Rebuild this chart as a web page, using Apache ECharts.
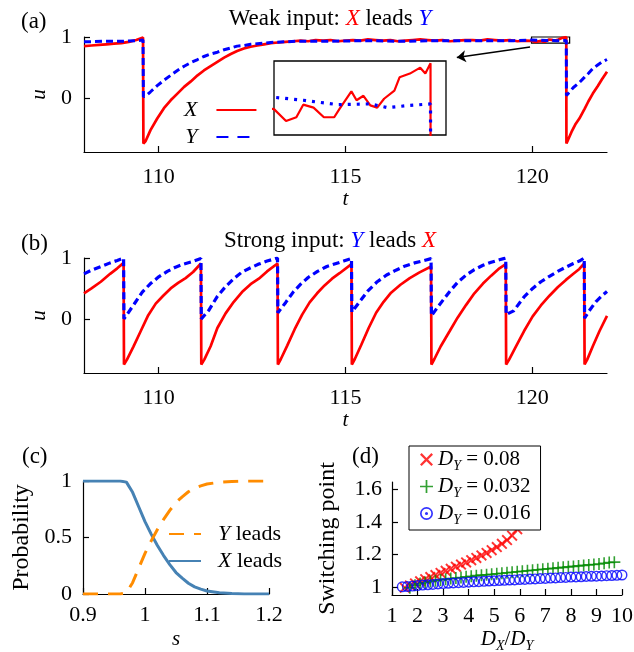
<!DOCTYPE html>
<html>
<head>
<meta charset="utf-8">
<script src="https://cdn.jsdelivr.net/npm/echarts@6/dist/echarts.min.js"></script>
<style>
  html, body { margin: 0; padding: 0; background: #fff; }
  #chart { width: 634px; height: 652px; }
</style>
</head>
<body>
<div id="chart"></div>
<script>
// (a) weak input: [t, u]
const aX = [[108,0.85],[108.2,0.86],[108.4,0.87],[108.6,0.88],[108.8,0.89],[109,0.9],[109.2,0.92],[109.4,0.95],[109.58,0.99],
  [109.59,-0.75],[109.65,-0.71],[109.78,-0.53],[109.96,-0.34],[110.14,-0.17],[110.32,-0.04],[110.5,0.07],[110.68,0.18],[110.86,0.27],
  [111.04,0.37],[111.21,0.45],[111.39,0.52],[111.57,0.59],[111.75,0.66],[111.93,0.72],[112.1,0.77],[112.28,0.81],[112.46,0.84],
  [112.64,0.86],[112.82,0.88],[113,0.9],[113.2,0.91],[113.4,0.92],[113.6,0.93],[113.8,0.94],[114,0.93],[114.2,0.95],[114.4,0.94],
  [114.6,0.95],[114.8,0.93],[115,0.94],[115.2,0.95],[115.4,0.94],[115.6,0.96],[115.8,0.95],[116,0.94],[116.2,0.95],[116.4,0.93],
  [116.6,0.94],[116.8,0.95],[117,0.96],[117.2,0.95],[117.4,0.94],[117.6,0.95],[117.8,0.93],[118,0.94],[118.2,0.95],[118.4,0.95],
  [118.6,0.94],[118.8,0.96],[119,0.95],[119.2,0.94],[119.4,0.95],[119.6,0.93],[119.8,0.94],
  [120,0.935],[120.07,0.919],[120.13,0.924],[120.17,0.941],[120.23,0.937],[120.29,0.924],[120.35,0.924],[120.38,0.935],[120.45,0.959],
  [120.48,0.947],[120.52,0.953],[120.56,0.94],[120.6,0.937],[120.64,0.949],[120.7,0.96],[120.73,0.978],[120.79,0.983],[120.85,0.991],
  [120.88,0.983],[120.91,0.997],
  [120.914,-0.75],[120.95,-0.7],[121.05,-0.56],[121.15,-0.44],[121.26,-0.34],[121.4,-0.18],[121.5,-0.06],[121.62,0.07],[121.75,0.19],
  [121.87,0.31],[122,0.43]];
const aY = [[108,0.92],[108.5,0.93],[109,0.93],[109.4,0.94],[109.58,0.95],
  [109.59,0.02],[109.65,0.03],[109.78,0.1],[109.96,0.2],[110.14,0.29],[110.32,0.37],[110.5,0.45],[110.68,0.52],[110.86,0.58],
  [111.04,0.63],[111.21,0.68],[111.39,0.72],[111.57,0.75],[111.75,0.79],[111.93,0.82],[112.1,0.85],[112.28,0.86],[112.46,0.88],
  [112.64,0.89],[112.82,0.9],[113,0.91],[113.35,0.92],[113.7,0.93],[114.5,0.93],[115.5,0.94],[116.5,0.93],[117.5,0.94],[118.5,0.94],
  [119.5,0.94],[120,0.951],[120.17,0.947],[120.37,0.941],[120.56,0.942],[120.66,0.937],[120.79,0.94],[120.91,0.942],
  [120.914,0.04],[121,0.1],[121.1,0.17],[121.26,0.25],[121.4,0.34],[121.5,0.4],[121.62,0.48],[121.75,0.54],[121.87,0.59],[122,0.63]];

// (b) strong input: [t, u]
const bX = [[108,0.42],[108.2,0.5],[108.45,0.61],[108.7,0.74],[108.89,0.83],[109.06,0.92],
  [109.07,-0.75],[109.15,-0.67],[109.32,-0.46],[109.52,-0.2],[109.72,0.06],[109.92,0.25],[110.12,0.38],[110.32,0.5],[110.52,0.59],[110.72,0.67],[110.92,0.77],[111.13,0.91],
  [111.14,-0.75],[111.22,-0.67],[111.39,-0.45],[111.57,-0.15],[111.79,0.09],[112.01,0.28],[112.23,0.44],[112.46,0.57],[112.68,0.66],[112.9,0.78],[113.18,0.91],
  [113.19,-0.75],[113.27,-0.66],[113.44,-0.44],[113.64,-0.17],[113.84,0.07],[114.04,0.27],[114.24,0.42],[114.44,0.55],[114.64,0.66],[114.84,0.75],[115.16,0.9],
  [115.17,-0.75],[115.25,-0.66],[115.42,-0.43],[115.62,-0.15],[115.82,0.1],[116.02,0.28],[116.22,0.43],[116.47,0.56],[116.72,0.67],[116.97,0.76],[117.29,0.86],
  [117.3,-0.75],[117.38,-0.66],[117.55,-0.45],[117.79,-0.2],[118,0.02],[118.23,0.23],[118.45,0.42],[118.68,0.58],[118.9,0.71],[119.12,0.83],[119.29,0.9],
  [119.3,-0.75],[119.38,-0.67],[119.55,-0.47],[119.78,-0.2],[120.01,0.04],[120.23,0.22],[120.46,0.38],[120.68,0.52],[120.9,0.64],[121.1,0.74],[121.26,0.82],[121.39,0.91],
  [121.4,-0.75],[121.47,-0.67],[121.62,-0.45],[121.8,-0.2],[122,0.05]];
const bY = [[108,0.74],[108.2,0.8],[108.45,0.86],[108.7,0.92],[108.89,0.96],[109.06,1],
  [109.07,0],[109.15,0.07],[109.34,0.24],[109.56,0.44],[109.78,0.58],[110,0.69],[110.23,0.78],[110.45,0.85],[110.67,0.9],[110.9,0.94],[111.13,0.99],
  [111.14,0],[111.34,0.14],[111.57,0.37],[111.79,0.53],[112.01,0.66],[112.23,0.77],[112.46,0.84],[112.68,0.9],[112.9,0.95],[113.18,1],
  [113.19,0.1],[113.4,0.27],[113.6,0.44],[113.8,0.57],[114,0.68],[114.25,0.78],[114.5,0.86],[114.75,0.91],[114.95,0.95],[115.16,0.99],
  [115.17,0.11],[115.4,0.3],[115.6,0.46],[115.85,0.61],[116.1,0.72],[116.35,0.8],[116.6,0.87],[116.85,0.92],[117.05,0.95],[117.29,0.99],
  [117.3,0.05],[117.5,0.22],[117.79,0.45],[118,0.6],[118.23,0.72],[118.45,0.81],[118.68,0.88],[118.9,0.93],[119.12,0.97],[119.29,1],
  [119.3,0.07],[119.5,0.13],[119.78,0.36],[120.01,0.5],[120.23,0.61],[120.46,0.7],[120.68,0.78],[120.9,0.85],[121.1,0.91],[121.26,0.95],[121.39,1],
  [121.4,0.01],[121.52,0.13],[121.7,0.28],[121.85,0.37],[122,0.45]];

// (c) probability vs s
const sVals = [0.9,0.92,0.94,0.96,0.97,0.98,0.99,1.0,1.01,1.02,1.03,1.04,1.05,1.06,1.07,1.08,1.09,1.1,1.12,1.14,1.16,1.18,1.2];
const pXleads = [1,1,1,1,0.99,0.9,0.77,0.64,0.53,0.43,0.34,0.26,0.19,0.14,0.095,0.063,0.043,0.027,0.011,0.004,0.001,0,0];
const pYleads = [0,0,0,0,0.01,0.1,0.23,0.36,0.47,0.57,0.66,0.74,0.81,0.86,0.905,0.937,0.957,0.973,0.989,0.996,0.999,1,1];

// (d) switching point vs D_X/D_Y
const dRed = [[1.5,0.995],[1.7,1.008],[1.9,1.021],[2.1,1.034],[2.3,1.047],[2.5,1.06],[2.7,1.073],[2.9,1.086],[3.1,1.099],[3.3,1.111],
  [3.5,1.124],[3.7,1.137],[3.9,1.15],[4.1,1.164],[4.3,1.178],[4.5,1.193],[4.7,1.209],[4.9,1.226],[5.1,1.245],[5.3,1.265],[5.5,1.288],[5.7,1.315],[5.9,1.355]];
const dGreen = [[1.7,0.995],[1.9,1.01],[2.1,1.02],[2.3,1.027],[2.5,1.033],[2.7,1.038],[2.9,1.043],[3.1,1.047],[3.3,1.051],[3.5,1.055],
  [3.7,1.058],[3.9,1.062],[4.1,1.065],[4.3,1.069],[4.5,1.072],[4.7,1.075],[4.9,1.078],[5.1,1.081],[5.3,1.084],[5.5,1.087],[5.7,1.09],
  [5.9,1.093],[6.1,1.096],[6.3,1.099],[6.5,1.102],[6.7,1.105],[6.9,1.108],[7.1,1.111],[7.3,1.114],[7.5,1.117],[7.7,1.12],[7.9,1.123],
  [8.1,1.126],[8.3,1.129],[8.5,1.132],[8.7,1.135],[8.9,1.138],[9.1,1.141],[9.3,1.145],[9.5,1.15],[9.7,1.152]];
const dBlue = [[1.4,1],[1.6,1.002],[1.8,1.005],[2,1.008],[2.2,1.011],[2.4,1.013],[2.6,1.015],[2.8,1.018],[3,1.02],[3.2,1.022],[3.4,1.024],
  [3.6,1.026],[3.8,1.027],[4,1.029],[4.2,1.031],[4.4,1.032],[4.6,1.034],[4.8,1.036],[5,1.037],[5.2,1.039],[5.4,1.04],[5.6,1.042],
  [5.8,1.043],[6,1.045],[6.2,1.046],[6.4,1.048],[6.6,1.049],[6.8,1.051],[7,1.052],[7.2,1.054],[7.4,1.055],[7.6,1.057],[7.8,1.058],
  [8,1.06],[8.2,1.061],[8.4,1.062],[8.6,1.064],[8.8,1.065],[9,1.066],[9.2,1.067],[9.4,1.069],[9.6,1.07],[9.8,1.071],[10,1.073]];

const tTicks = [110, 115, 120];
const uTicks = [0, 1];
const sTicks = [0.9, 1, 1.1, 1.2];
const pTicks = [0, 0.5, 1];
const rTicks = [1, 2, 3, 4, 5, 6, 7, 8, 9, 10];
const swTicks = [1, 1.2, 1.4, 1.6];
const dyNames = ['0.08', '0.032', '0.016'];

const FONT = 'Liberation Serif';
const FS = 22;
const RED = '#ff0000', BLUE = '#0000ff', GREEN = '#008a00', STEEL = '#4682b4', ORANGE = '#ff8c00';

const CROSS = 'path://M0,1.5L1.5,0L6,4.5L10.5,0L12,1.5L7.5,6L12,10.5L10.5,12L6,7.5L1.5,12L0,10.5L4.5,6Z';
const PLUS = 'path://M5.2,0L6.8,0L6.8,5.2L12,5.2L12,6.8L6.8,6.8L6.8,12L5.2,12L5.2,6.8L0,6.8L0,5.2L5.2,5.2Z';
const RING = 'path://M10,0A10,10 0 1,1 10,20A10,10 0 1,1 10,0Z M10,2.6A7.4,7.4 0 1,0 10,17.4A7.4,7.4 0 1,0 10,2.6Z';
const RING_DOT = RING + ' M10,7.6A2.4,2.4 0 1,1 10,12.4A2.4,2.4 0 1,1 10,7.6Z';

const txt = { fontFamily: FONT, fontSize: FS, color: '#000', fontWeight: 'normal' };
const leg = { ...txt, fontSize: 21 };
const big = { ...txt, fontSize: 23 };
const rich = {
  t: { ...big },
  n: { ...leg },
  i: { ...leg, fontStyle: 'italic' },
  r: { ...big, fontStyle: 'italic', color: RED },
  b: { ...big, fontStyle: 'italic', color: BLUE },
  s: { ...leg, fontStyle: 'italic', fontSize: 14, padding: [13, 0, 0, 0] }
};

function axis(gridIndex, min, max, ticks, margin, name, nameGap, vertical, nameSize) {
  return {
    type: 'value', gridIndex, min, max,
    axisLine: { show: true, onZero: false, lineStyle: { color: '#000', width: 1.2 } },
    axisTick: { show: true, inside: true, length: 6, customValues: ticks, lineStyle: { color: '#000', width: 1.2 } },
    axisLabel: { customValues: ticks, margin, ...txt },
    splitLine: { show: false },
    name, nameLocation: 'middle', nameGap, nameRotate: vertical ? 90 : 0,
    nameTextStyle: { ...txt, fontSize: nameSize || FS, rich }
  };
}
function hidden(gridIndex, min, max) {
  return { type: 'value', gridIndex, min, max, show: false, splitLine: { show: false } };
}

const chart = echarts.init(document.getElementById('chart'));
chart.setOption({
  animation: false,
  backgroundColor: '#fff',
  title: [
    { text: '{t|Weak input: }{r|X}{t| leads }{b|Y}', left: 330, top: 7, textAlign: 'center', padding: 0, textStyle: { ...big, rich } },
    { text: '{t|Strong input: }{b|Y}{t| leads }{r|X}', left: 330, top: 229, textAlign: 'center', padding: 0, textStyle: { ...big, rich } },
    { text: '(a)', left: 21, top: 10, padding: 0, textStyle: big },
    { text: '(b)', left: 21, top: 232, padding: 0, textStyle: big },
    { text: '(c)', left: 22, top: 445, padding: 0, textStyle: big },
    { text: '(d)', left: 352, top: 445, padding: 0, textStyle: big }
  ],
  grid: [
    { left: 84, top: 37, width: 523, height: 115, outerBoundsMode: 'none' },
    { left: 84, top: 258, width: 523, height: 115, outerBoundsMode: 'none' },
    { left: 274, top: 61, width: 172, height: 74, show: true, borderColor: '#000', borderWidth: 1.3, backgroundColor: '#fff', outerBoundsMode: 'none' },
    { left: 83, top: 481, width: 186, height: 113, outerBoundsMode: 'none' },
    { left: 392, top: 482, width: 230, height: 113, outerBoundsMode: 'none' }
  ],
  xAxis: [
    axis(0, 108, 122, tTicks, 14, '{i|t}', 35, false),
    axis(1, 108, 122, tTicks, 14, '{i|t}', 36, false),
    hidden(2, 120, 121),
    axis(3, 0.9, 1.2, sTicks, 10, '{i|s}', 35, false),
    axis(4, 1, 10, rTicks, 10, '{i|D}{s|X}{n|/}{i|D}{s|Y}', 31, false)
  ],
  yAxis: [
    axis(0, -0.89, 1, uTicks, 12, '{i|u}', 34, true),
    axis(1, -0.89, 1, uTicks, 12, '{i|u}', 34, true),
    hidden(2, 0.9, 1.0),
    axis(3, 0, 1, pTicks, 11, 'Probability', 49, true, 24),
    axis(4, 0.95, 1.645, swTicks, 10, 'Switching point', 52, true, 24)
  ],
  legend: [
    {
      data: ['X', { name: 'Y', lineStyle: { type: [12, 9] } }],
      orient: 'vertical', left: 184, top: 99, align: 'right', padding: 0,
      itemWidth: 40, itemHeight: 12, itemGap: 5, selectedMode: false,
      itemStyle: { opacity: 0 },
      formatter: name => '{i|' + name + '}',
      textStyle: { ...txt, rich: { i: { ...txt, fontStyle: 'italic', padding: [0, 14, 0, 0] } } }
    },
    {
      data: [{ name: 'Y leads', lineStyle: { type: [15, 10] } }, 'X leads'],
      orient: 'vertical', left: 168, top: 523, padding: 0,
      itemWidth: 32, itemHeight: 12, itemGap: 5, selectedMode: false,
      itemStyle: { opacity: 0 },
      formatter: name => '{i|' + name[0] + '}{n|' + name.slice(1) + '}',
      textStyle: { ...txt, rich: { i: { ...txt, fontStyle: 'italic', padding: [0, 0, 0, 12] }, n: { ...txt } } }
    },
    {
      data: [dyNames[0], dyNames[1], { name: dyNames[2], icon: RING_DOT, itemStyle: { color: BLUE, borderWidth: 0 } }],
      orient: 'vertical', left: 409, top: 446, padding: [3, 10, 3, 11],
      borderColor: '#000', borderWidth: 1, backgroundColor: '#fff',
      itemWidth: 13, itemHeight: 13, itemGap: 3, selectedMode: false,
      formatter: name => '{i|D}{s|Y}{n| = ' + name + '}',
      textStyle: { ...leg, rich: { i: { ...leg, fontStyle: 'italic' }, n: { ...leg }, s: rich.s } }
    }
  ],
  series: [
    {
      name: 'X', type: 'line', xAxisIndex: 0, yAxisIndex: 0, data: aX, symbol: 'none',
      lineStyle: { color: RED, width: 2.7 }, itemStyle: { color: RED },
      markArea: {
        silent: true,
        itemStyle: { color: 'rgba(0,0,0,0)', borderColor: '#000', borderWidth: 1.2 },
        data: [[{ coord: [119.98, 0.9] }, { coord: [121.0, 1.0] }]]
      },
      markLine: {
        silent: true, symbol: ['none', 'arrow'], symbolSize: 9, label: { show: false },
        lineStyle: { color: '#000', width: 1.5, type: 'solid' },
        data: [[{ coord: [119.94, 0.836] }, { coord: [117.98, 0.662] }]]
      }
    },
    {
      name: 'Y', type: 'line', xAxisIndex: 0, yAxisIndex: 0, data: aY, symbol: 'none',
      lineStyle: { color: BLUE, width: 3, type: [7, 4] }, itemStyle: { color: BLUE }
    },
    {
      name: 'Xb', type: 'line', xAxisIndex: 1, yAxisIndex: 1, data: bX, symbol: 'none',
      lineStyle: { color: RED, width: 2.7 }
    },
    {
      name: 'Yb', type: 'line', xAxisIndex: 1, yAxisIndex: 1, data: bY, symbol: 'none',
      lineStyle: { color: BLUE, width: 3.2, type: [7, 4] }
    },
    {
      name: 'Xi', type: 'line', xAxisIndex: 2, yAxisIndex: 2, data: aX, symbol: 'none', clip: true,
      lineStyle: { color: RED, width: 2.2 }
    },
    {
      name: 'Yi', type: 'line', xAxisIndex: 2, yAxisIndex: 2, data: aY, symbol: 'none', clip: true,
      lineStyle: { color: BLUE, width: 3.2, type: [3, 6] }
    },
    {
      name: 'X leads', type: 'line', xAxisIndex: 3, yAxisIndex: 3, symbol: 'none',
      data: sVals.map((s, i) => [s, pXleads[i]]),
      lineStyle: { color: STEEL, width: 3 }, itemStyle: { color: STEEL }
    },
    {
      name: 'Y leads', type: 'line', xAxisIndex: 3, yAxisIndex: 3, symbol: 'none',
      data: sVals.map((s, i) => [s, pYleads[i]]),
      lineStyle: { color: ORANGE, width: 3, type: [15, 10] }, itemStyle: { color: ORANGE }
    },
    {
      name: dyNames[0], type: 'scatter', xAxisIndex: 4, yAxisIndex: 4, data: dRed,
      symbol: CROSS, symbolSize: 11, itemStyle: { color: RED }
    },
    {
      name: dyNames[1], type: 'scatter', xAxisIndex: 4, yAxisIndex: 4, data: dGreen,
      symbol: PLUS, symbolSize: 12, itemStyle: { color: GREEN }
    },
    {
      name: dyNames[2], type: 'scatter', xAxisIndex: 4, yAxisIndex: 4, data: dBlue,
      symbol: RING, symbolSize: 11, itemStyle: { color: BLUE }
    }
  ]
});
</script>
</body>
</html>
